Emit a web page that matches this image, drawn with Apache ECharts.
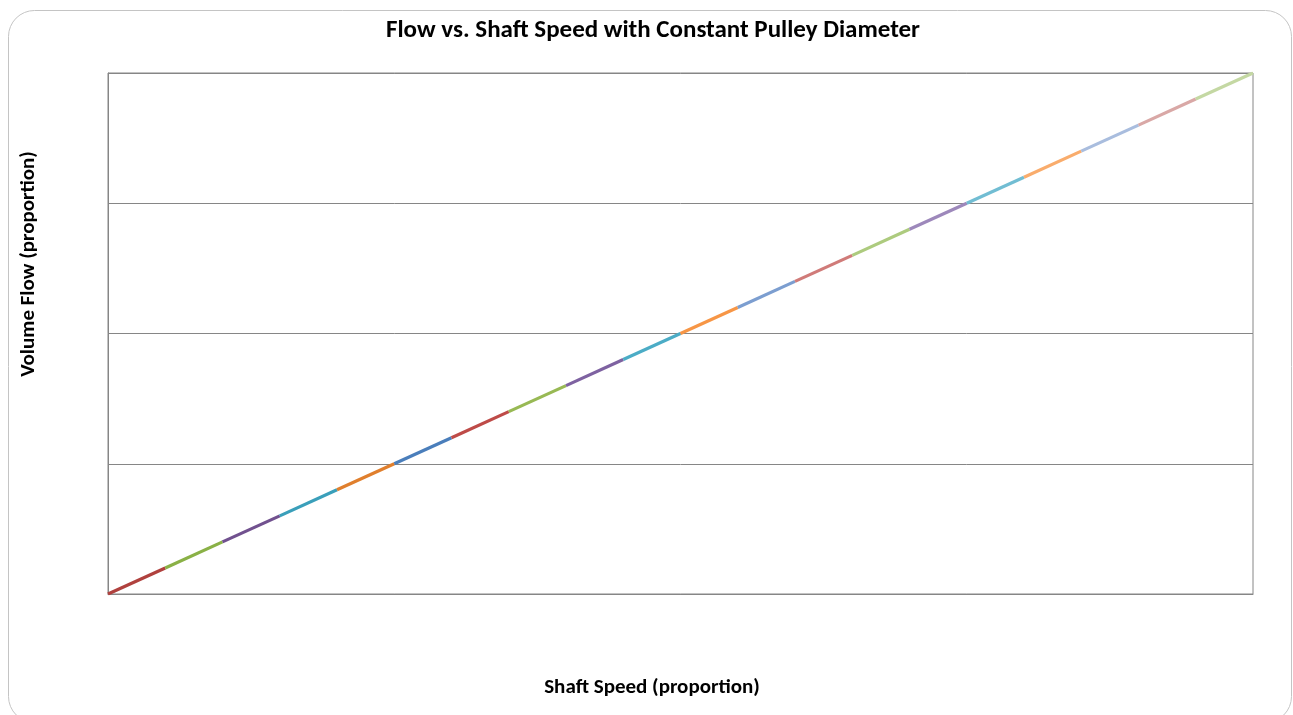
<!DOCTYPE html>
<html>
<head>
<meta charset="utf-8">
<script src="https://cdn.jsdelivr.net/npm/echarts@6/dist/echarts.min.js"></script>
<style>
  html, body { margin: 0; padding: 0; background: #fff; }
  #chart { width: 1293px; height: 715px; }
</style>
</head>
<body>
<div id="chart"></div>
<script>
// shaft speed and volume flow, both as proportion of max
const speed = [0, 0.05, 0.1, 0.15, 0.2, 0.25, 0.3, 0.35, 0.4, 0.45, 0.5, 0.55, 0.6, 0.65, 0.7, 0.75, 0.8, 0.85, 0.9, 0.95, 1]
const flow = [0, 0.05, 0.1, 0.15, 0.2, 0.25, 0.3, 0.35, 0.4, 0.45, 0.5, 0.55, 0.6, 0.65, 0.7, 0.75, 0.8, 0.85, 0.9, 0.95, 1]
// one colour per segment (excel style palette)
const segColors = [
  '#B0413E', '#8AB146', '#71518F', '#3A9FBA', '#E07F2D',
  '#4A7EBB', '#BE4B48', '#98B954', '#7E62A1', '#4BACC6',
  '#F79646', '#7C9ED0', '#D07B79', '#ADCB7E', '#9D88BB',
  '#71BDD3', '#F9AC6C', '#A9BDDE', '#D9A8A6', '#C4D8A3'
]

const chart = echarts.init(document.getElementById('chart'))

const series = []
for (let i = 0; i < speed.length - 1; i++) {
  series.push({
    type: 'line',
    data: [[speed[i], flow[i]], [speed[i + 1], flow[i + 1]]],
    showSymbol: false,
    symbol: 'none',
    silent: true,
    lineStyle: { color: segColors[i], width: 3.2, cap: 'butt' },
    z: 3
  })
}

const font = 'Calibri, Lato, "Open Sans", sans-serif'

chart.setOption({
  animation: false,
  grid: {
    left: 108, right: 40, top: 73, bottom: 121,
    show: true, borderColor: '#868686', borderWidth: 1
  },
  xAxis: {
    type: 'value', min: 0, max: 1, interval: 0.25,
    axisLine: { show: true, lineStyle: { color: '#868686' } },
    axisTick: { show: false },
    axisLabel: { show: false },
    splitLine: { show: false }
  },
  yAxis: {
    type: 'value', min: 0, max: 1, interval: 0.25,
    axisLine: { show: true, lineStyle: { color: '#868686' } },
    axisTick: { show: false },
    axisLabel: { show: false },
    splitLine: { show: true, lineStyle: { color: '#868686', width: 1 } }
  },
  graphic: [
    {
      type: 'rect',
      shape: { x: 8.5, y: 10.5, width: 1283, height: 712, r: 26 },
      style: { fill: 'none', stroke: '#c4c4c4', lineWidth: 1 },
      z: -1
    },
    {
      type: 'text', x: 653, y: 31,
      style: { text: 'Flow vs. Shaft Speed with Constant Pulley Diameter', font: 'bold 25px ' + font, fill: '#000', align: 'center', verticalAlign: 'middle' }
    },
    {
      type: 'text', x: 652, y: 688,
      style: { text: 'Shaft Speed (proportion)', font: 'bold 21px ' + font, fill: '#000', align: 'center', verticalAlign: 'middle' }
    },
    {
      type: 'text', x: 29, y: 264, rotation: Math.PI / 2,
      style: { text: 'Volume Flow (proportion)', font: 'bold 21px ' + font, fill: '#000', align: 'center', verticalAlign: 'middle' }
    }
  ],
  series: series
})
</script>
</body>
</html>
